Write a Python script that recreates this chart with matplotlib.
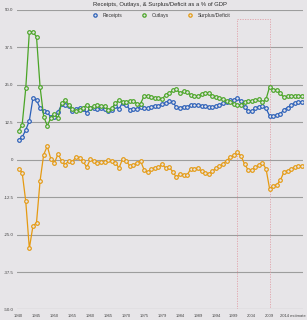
import matplotlib
matplotlib.use('Agg')
from matplotlib import pyplot as plt
from matplotlib.lines import Line2D
from matplotlib.transforms import ScaledTranslation

# Dane: dochody, wydatki i saldo budżetu jako % PKB (1940 - 2018 szacunek)
years = [str(y) for y in range(1940, 1977)] + ['TQ'] + [str(y) for y in range(1977, 2014)] + \
        ['%d estimate' % y for y in range(2014, 2019)]

receipts = [6.7, 7.5, 9.9, 13.0, 20.5, 19.9, 17.2, 16.1, 15.8, 14.2,
            14.1, 15.8, 18.5, 18.2, 18.0, 16.1, 17.0, 17.2, 16.8, 15.7,
            17.3, 17.2, 17.0, 17.2, 17.0, 16.4, 16.7, 17.8, 17.0, 19.0,
            18.4, 16.7, 17.0, 17.0, 17.7, 17.3, 17.1, 17.7, 18.0, 18.0,
            18.5, 19.0, 19.6, 19.2, 17.5, 17.3, 17.7, 17.5, 18.4, 18.2,
            18.4, 18.0, 17.8, 17.5, 17.5, 18.0, 18.4, 18.8, 19.2, 19.9,
            19.8, 20.6, 19.5, 17.6, 16.2, 16.1, 17.3, 17.6, 17.9, 17.1,
            14.6, 14.6, 15.0, 15.3, 16.7, 17.4, 18.3, 18.8, 19.2, 19.4]

outlays = [9.6, 11.7, 23.8, 42.6, 42.7, 41.0, 24.2, 14.4, 11.3, 14.0,
           15.3, 13.9, 18.9, 19.9, 18.3, 16.8, 16.1, 16.5, 17.4, 18.2,
           17.2, 17.8, 18.2, 18.0, 17.9, 16.6, 17.2, 18.8, 19.8, 19.4,
           19.3, 19.5, 19.6, 18.7, 18.7, 21.3, 21.4, 20.9, 20.7, 20.7,
           20.1, 21.7, 22.2, 23.1, 23.5, 22.2, 22.8, 22.5, 21.6, 21.3,
           21.2, 21.9, 22.3, 22.1, 21.4, 21.0, 20.6, 20.2, 19.5, 19.1,
           18.5, 18.2, 18.2, 19.1, 19.7, 19.6, 19.9, 20.1, 19.1, 20.2,
           24.4, 23.4, 23.4, 22.1, 20.8, 21.1, 21.4, 21.3, 21.4, 21.4]

surplus = [-3.0, -4.3, -13.9, -29.6, -22.2, -21.0, -7.0, 1.7, 4.5, 0.2,
           -1.1, 1.9, -0.4, -1.7, -0.3, -0.7, 0.9, 0.7, -0.6, -2.5,
           0.1, -0.6, -1.2, -0.8, -0.9, -0.2, -0.5, -1.0, -2.8, 0.3,
           -0.3, -2.1, -1.9, -1.1, -0.4, -3.4, -4.2, -3.2, -2.7, -2.6,
           -1.6, -2.7, -2.6, -4.0, -5.9, -4.7, -5.1, -5.0, -3.2, -3.1,
           -2.8, -3.9, -4.5, -4.7, -3.9, -2.9, -2.2, -1.4, -0.3, 0.8,
           1.4, 2.4, 1.3, -1.5, -3.4, -3.5, -2.6, -1.8, -1.1, -3.1,
           -9.8, -8.7, -8.4, -6.8, -4.1, -3.7, -3.1, -2.5, -2.2, -2.0]

y_ticks = [50.0, 37.5, 25.0, 12.5, 0, -12.5, -25.0, -37.5, -50.0]
y_labels = ['50.0', '37.5', '25.0', '12.5', '0', '-12.5', '-25.0', '-37.5', '-50.0']

# zaznaczony okres (2000 - 2009)
box_years = ['2000', '2009']
box_top = 47.0

bg = '#e7e5e8'
c_rec = '#2a5fb8'
c_out = '#4aa526'
c_sur = '#e59a12'

fig = plt.figure(figsize=(3.07, 3.2), dpi=100, facecolor=bg)
ax = fig.add_axes([0.057, 0.033, 0.930, 0.936], facecolor=bg)

x = list(range(len(years)))
for vals, col in [(receipts, c_rec), (outlays, c_out), (surplus, c_sur)]:
    ax.plot(x, vals, color=col, lw=0.9, marker='o', ms=2.6, mew=0.85,
            mfc=bg, mec=col, zorder=3)

# siatka pozioma
for t in y_ticks:
    ax.axhline(t, color='#808080' if t == -50 else '#9d9d9d', lw=0.8, zorder=1)

# przerywany prostokąt
bx0, bx1 = years.index(box_years[0]), years.index(box_years[1])
ax.plot([bx0, bx0, bx1, bx1], [-50, box_top, box_top, -50], color='#e0a0a8',
        lw=0.6, ls=(0, (1.5, 1.5)), zorder=2)

ax.set_xlim(-0.3, len(years) - 0.7)
ax.set_ylim(-50, 50)
ax.set_yticks(y_ticks)
ax.set_yticklabels(y_labels)
ax.set_xticks(x[::5])
ax.set_xticklabels(years[::5])
ax.tick_params(axis='both', length=0, labelsize=3.2, colors='#444444')
ax.tick_params(axis='x', pad=3, labelsize=3.0)
ax.tick_params(axis='y', pad=3)
for lab in ax.get_xticklabels() + ax.get_yticklabels():
    lab.set_family('Liberation Sans')
last = ax.get_xticklabels()[-1]
last.set_horizontalalignment('left')
last.set_transform(last.get_transform() + ScaledTranslation(-0.08, 0, fig.dpi_scale_trans))
for s in ax.spines.values():
    s.set_visible(False)

ax.set_title('Receipts, Outlays, & Surplus/Deficit as a % of GDP', fontsize=4.2,
             color='#2a2a2a', pad=3, family='Liberation Sans')

handles = [Line2D([], [], ls='none', marker='o', ms=2.4, mew=0.9, mfc=bg, mec=c)
           for c in (c_rec, c_out, c_sur)]
ax.legend(handles, ['Receipts', 'Outlays', 'Surplus/Deficit'], loc='upper center',
          bbox_to_anchor=(0.5, 1.005), ncol=3, frameon=False,
          prop={'family': 'Liberation Sans', 'size': 3.6},
          handletextpad=0.6, columnspacing=3.2, labelcolor='#333333')

fig.savefig('out.png', dpi=100, facecolor=bg)
